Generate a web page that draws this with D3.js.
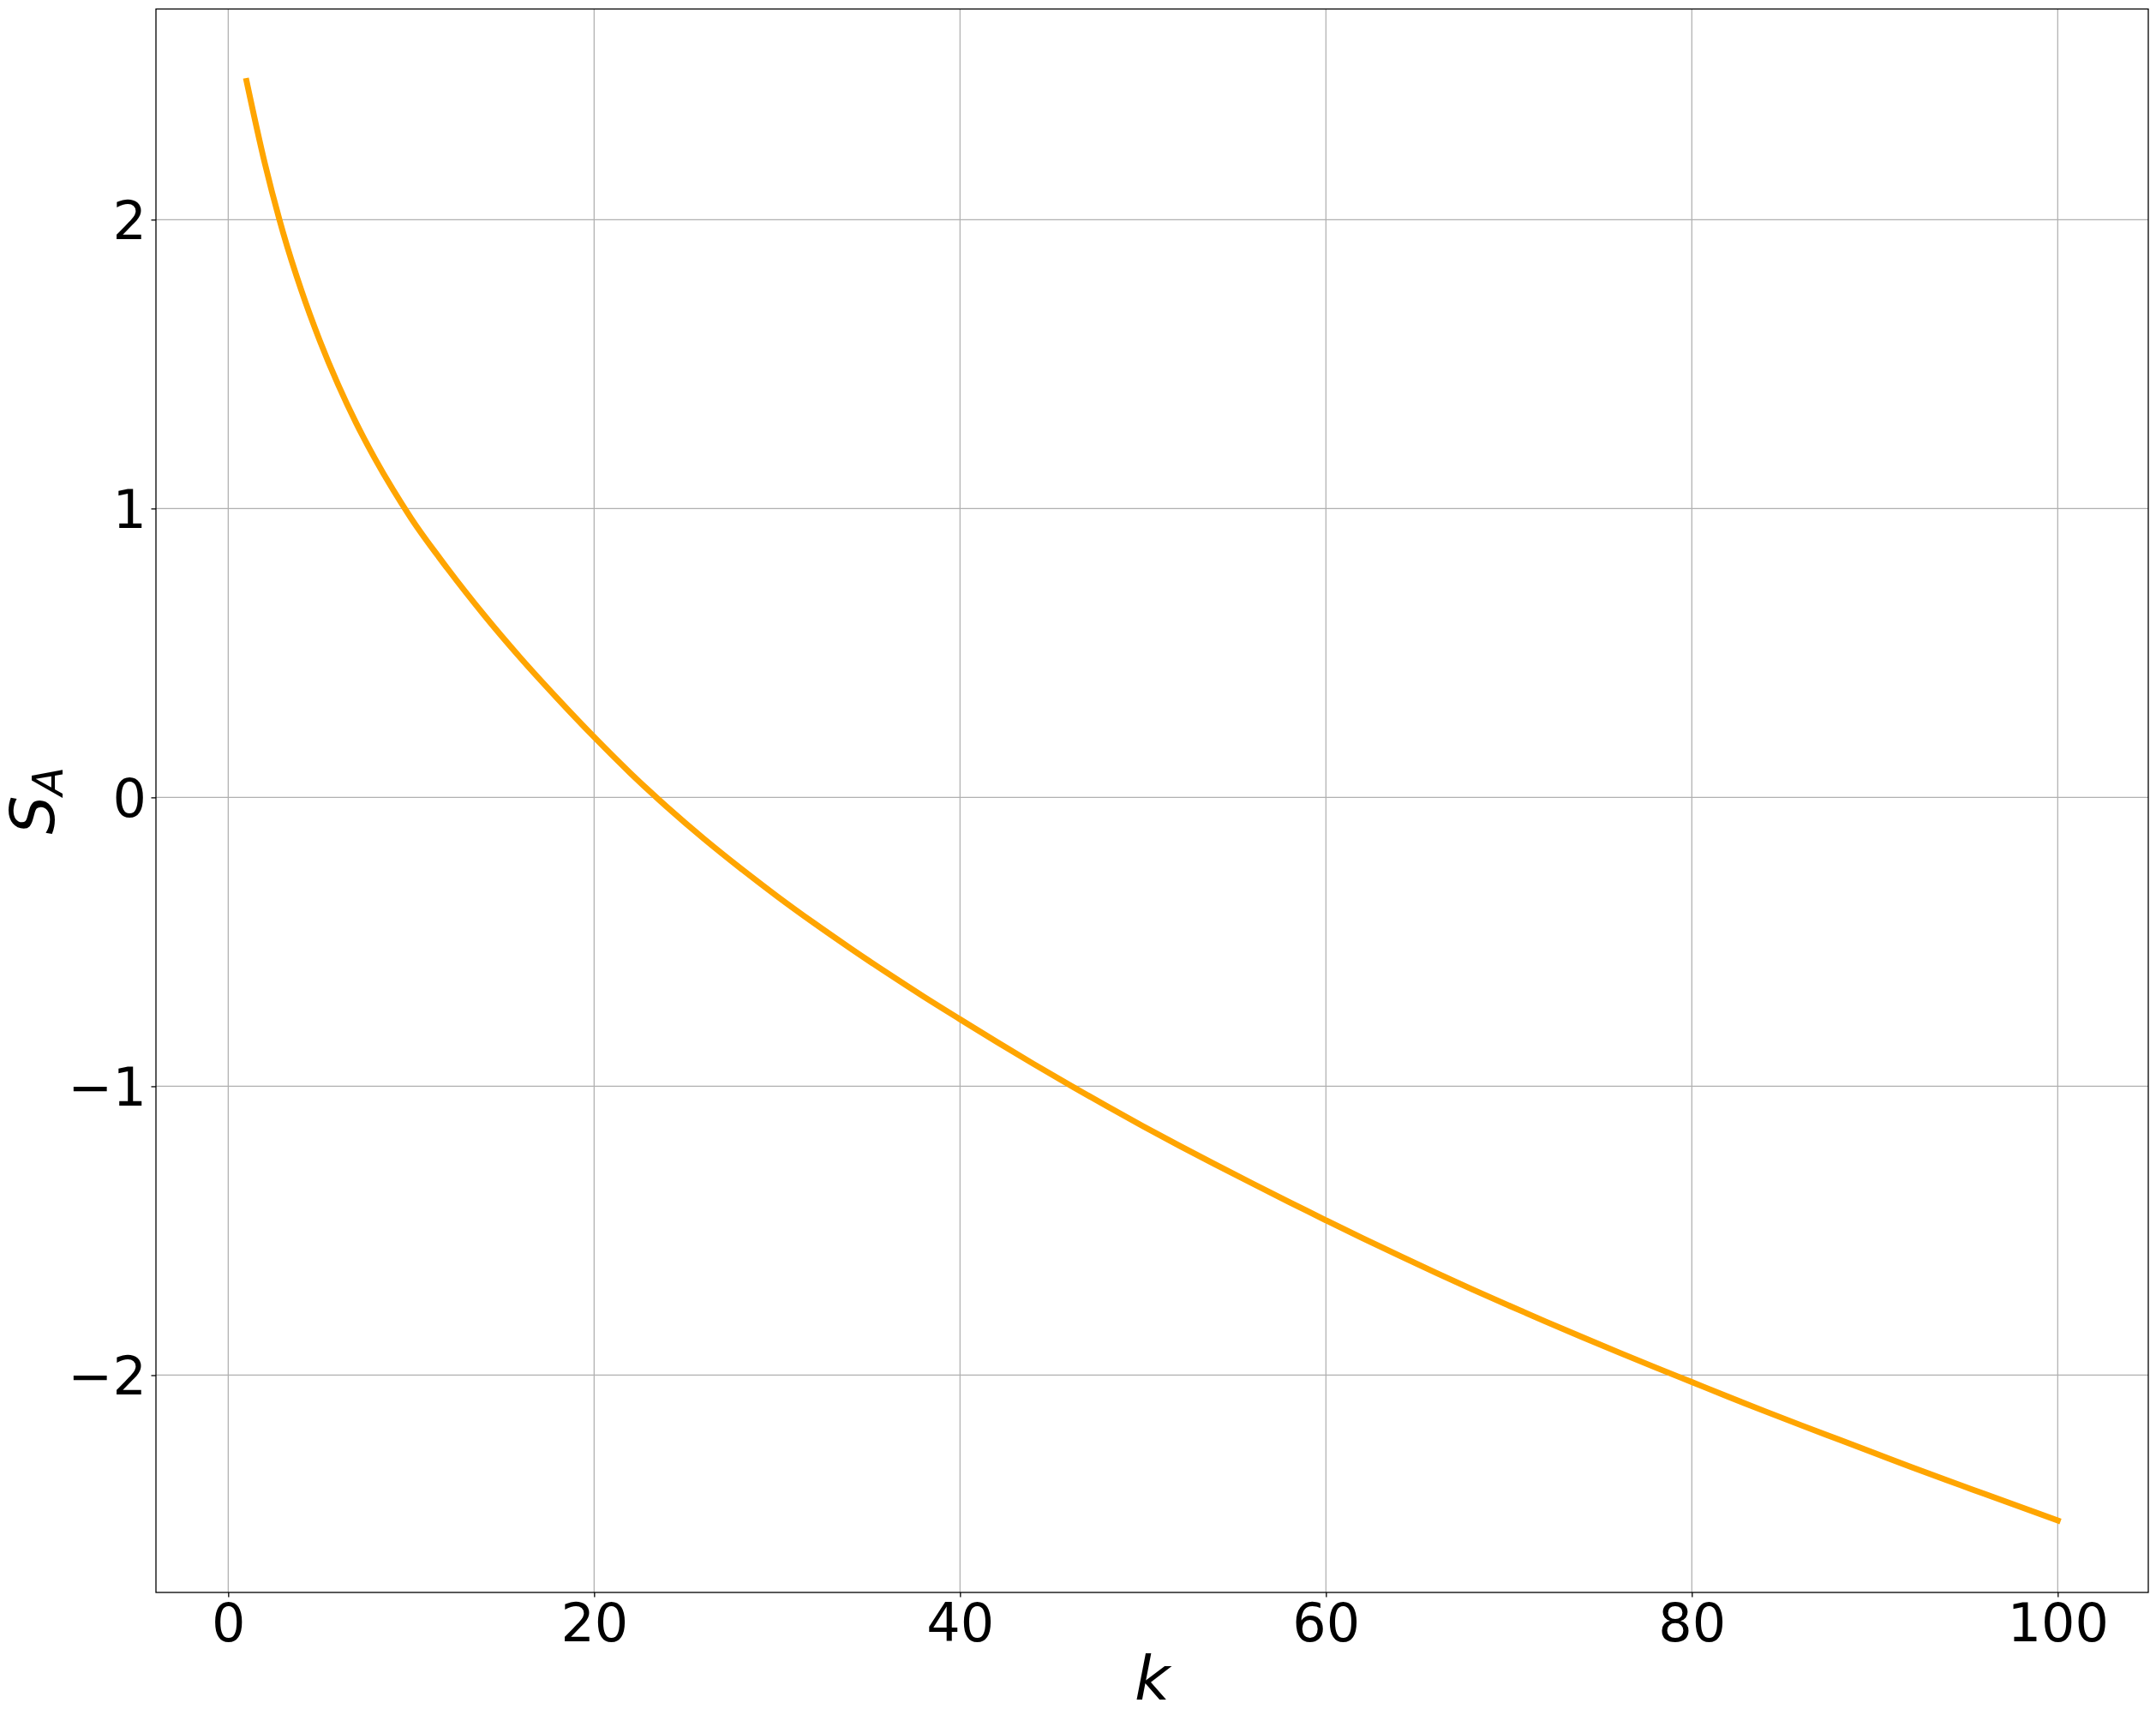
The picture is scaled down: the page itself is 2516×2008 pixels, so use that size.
<!DOCTYPE html>
<html>
<head>
<meta charset="utf-8">
<script src="https://cdn.jsdelivr.net/npm/d3@7"></script>
<style>
    body { margin: 0; background: #ffffff; }
    svg { display: block; }
</style>
</head>
<body>
<svg id="chart" width="2516" height="2008"></svg>
<script>
// Valores
var kValues = [1, 2, 3, 4, 5, 6, 7, 8, 9, 10, 12, 14, 16, 18, 20, 22, 24, 26, 28, 30,
    32, 34, 36, 38, 40, 42, 44, 46, 48, 50, 52, 54, 56, 58, 60, 62, 64, 66, 68, 70,
    72, 74, 76, 78, 80, 82, 84, 86, 88, 90, 92, 94, 96, 98, 100];
var sValues = [2.48, 2.195, 1.955, 1.755, 1.582, 1.43, 1.295, 1.175, 1.066, 0.966,
    0.791, 0.63, 0.481, 0.342, 0.209, 0.083, -0.034, -0.143, -0.245, -0.342,
    -0.434, -0.522, -0.607, -0.689, -0.768, -0.846, -0.922, -0.996, -1.068, -1.138,
    -1.206, -1.272, -1.337, -1.401, -1.464, -1.526, -1.586, -1.645, -1.703, -1.759,
    -1.814, -1.868, -1.921, -1.973, -2.024, -2.075, -2.125, -2.174, -2.222, -2.27,
    -2.318, -2.365, -2.411, -2.457, -2.503];
var xTicks = [0, 20, 40, 60, 80, 100];
var yTicks = [-2, -1, 0, 1, 2];

var xLabel = 'k';
var yLabelMain = 'S';
var yLabelSub = 'A';

var plot = { left: 182, right: 2507, top: 10.5, bottom: 1858 };
var fontFamily = '"DejaVu Sans", sans-serif';

// Margen del 5% como matplotlib
function conMargen(ext) {
    var d = (ext[1] - ext[0]) * 0.05;
    return [ext[0] - d, ext[1] + d];
}

var x = d3.scaleLinear()
    .domain(conMargen(d3.extent(kValues)))
    .range([plot.left, plot.right]);

var y = d3.scaleLinear()
    .domain(conMargen(d3.extent(sValues)))
    .range([plot.bottom, plot.top]);

var svg = d3.select('#chart');

svg.append('rect')
    .attr('width', 2516)
    .attr('height', 2008)
    .attr('fill', '#ffffff');

// Rejilla
var grid = svg.append('g')
    .attr('stroke', '#b0b0b0')
    .attr('stroke-width', 1.25);

grid.selectAll('line.gx')
    .data(xTicks)
    .join('line')
    .attr('class', 'gx')
    .attr('x1', d => x(d)).attr('x2', d => x(d))
    .attr('y1', plot.top).attr('y2', plot.bottom);

grid.selectAll('line.gy')
    .data(yTicks)
    .join('line')
    .attr('class', 'gy')
    .attr('x1', plot.left).attr('x2', plot.right)
    .attr('y1', d => y(d)).attr('y2', d => y(d));

// Curva
var data = kValues.map((k, i) => ({ k: k, s: sValues[i] }));

var line = d3.line()
    .x(d => x(d.k))
    .y(d => y(d.s))
    .curve(d3.curveMonotoneX);

svg.append('path')
    .datum(data)
    .attr('d', line)
    .attr('fill', 'none')
    .attr('stroke', '#ffa500')
    .attr('stroke-width', 6.9)
    .attr('stroke-linecap', 'square')
    .attr('stroke-linejoin', 'round');

// Ejes
var xAxis = svg.append('g')
    .attr('transform', 'translate(0,' + plot.bottom + ')')
    .call(d3.axisBottom(x).tickValues(xTicks).tickFormat(d3.format('d'))
        .tickSize(5.5).tickPadding(7.5));

var yAxis = svg.append('g')
    .attr('transform', 'translate(' + plot.left + ',0)')
    .call(d3.axisLeft(y).tickValues(yTicks).tickFormat(d3.format('d'))
        .tickSize(5.5).tickPadding(5.5));

[xAxis, yAxis].forEach(function (ax) {
    ax.select('.domain').remove();
    ax.selectAll('.tick line').attr('stroke', '#000000').attr('stroke-width', 1.3);
    ax.selectAll('.tick text')
        .attr('fill', '#000000')
        .style('font-family', fontFamily)
        .style('font-size', '62px');
});
yAxis.selectAll('.tick text').attr('dy', '0.36em');

// Marco
svg.append('rect')
    .attr('x', plot.left)
    .attr('y', plot.top)
    .attr('width', plot.right - plot.left)
    .attr('height', plot.bottom - plot.top)
    .attr('fill', 'none')
    .attr('stroke', '#000000')
    .attr('stroke-width', 1.3);

// Titulos de ejes
svg.append('text')
    .attr('x', (plot.left + plot.right) / 2)
    .attr('y', 1983)
    .attr('text-anchor', 'middle')
    .style('font-family', fontFamily)
    .style('font-style', 'italic')
    .style('font-size', '71px')
    .text(xLabel);

var yLab = svg.append('text')
    .attr('transform', 'translate(63,' + ((plot.top + plot.bottom) / 2) + ') rotate(-90)')
    .attr('text-anchor', 'middle')
    .style('font-family', fontFamily)
    .style('font-style', 'italic');

yLab.append('tspan')
    .style('font-size', '71px')
    .text(yLabelMain);

yLab.append('tspan')
    .attr('dy', 10)
    .style('font-size', '49px')
    .text(yLabelSub);
</script>
</body>
</html>
